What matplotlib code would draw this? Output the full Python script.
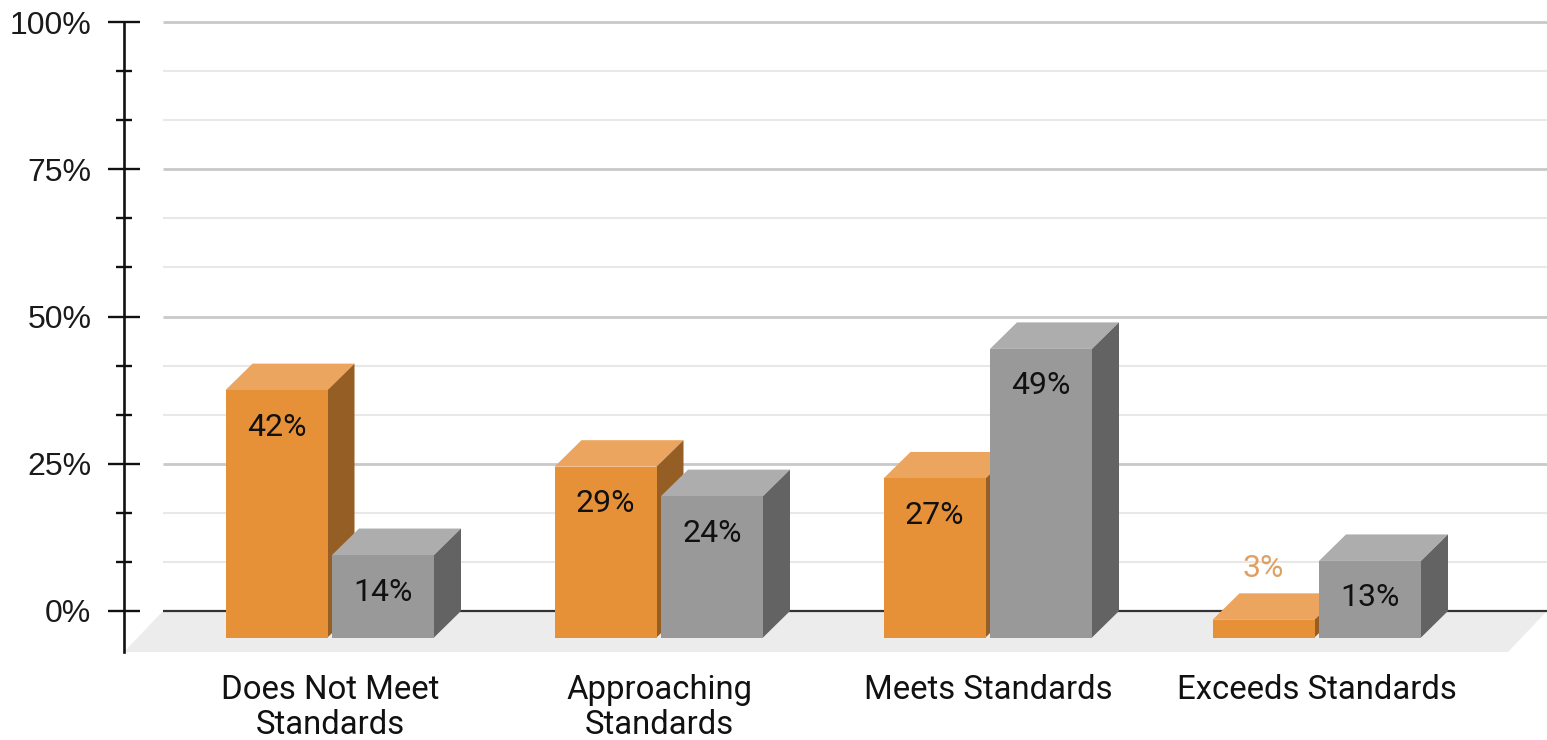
import matplotlib
matplotlib.use("Agg")
import matplotlib.pyplot as plt
from matplotlib.patches import Polygon

categories = ["Does Not Meet\nStandards", "Approaching\nStandards", "Meets Standards", "Exceeds Standards"]
orange_values = [42, 29, 27, 3]
grey_values = [14, 24, 49, 13]
y_major = [0, 25, 50, 75, 100]
y_minor = [100 / 12 * i for i in range(13) if i % 3]

ORANGE = ("#E69138", "#EBA55F", "#955E24")
GREY = ("#999999", "#ADADAD", "#636363")

W, H = 1547, 740
PX_X = 329.0    # pixels per category step
PX_Y = 5.89     # pixels per percent
DX = 27 / PX_X  # horizontal depth of the 3D boxes
DY = 4.5        # vertical depth of the 3D boxes, in percent
BAR_W = 102 / PX_X
FLOOR = -41 / PX_Y

plt.rcParams["font.family"] = ["Roboto", "DejaVu Sans"]
fig = plt.figure(figsize=(W / 100, H / 100), dpi=100)
ax = fig.add_axes([124 / W, (H - 652) / H, (W - 124) / W, 630 / H])
ax.set_xlim((124 - 330) / PX_X, (W - 330) / PX_X)
ax.set_ylim(FLOOR, 100)
for side in ("top", "right", "bottom"):
    ax.spines[side].set_visible(False)
ax.spines["left"].set_linewidth(1.9)
ax.spines["left"].set_color("#111111")

x0, x1 = ax.get_xlim()
wall_left = x0 + 39 / PX_X

# Floor of the 3D scene
ax.add_patch(Polygon([(wall_left, 0), (x1, 0), (x1 - 39 / PX_X, FLOOR), (x0, FLOOR)],
                     closed=True, fc="#ECECEC", ec="none", zorder=1))

# Back-wall grid lines
for v in y_minor:
    ax.plot([wall_left, x1], [v, v], color="#E8E8E8", lw=1.5, zorder=1, solid_capstyle="butt", clip_on=False)
for v in y_major[1:]:
    ax.plot([wall_left, x1], [v, v], color="#C9C9C9", lw=2.0, zorder=1, solid_capstyle="butt", clip_on=False)
ax.plot([wall_left, x1], [0, 0], color="#333333", lw=1.6, zorder=2, solid_capstyle="butt")


def box(left, value, colours, z):
    front, top, side = colours
    base = -DY
    ftop = value - DY
    r = left + BAR_W
    ax.add_patch(Polygon([(left, base), (r, base), (r, ftop), (left, ftop)], fc=front, ec="none", zorder=z + 0.2))
    ax.add_patch(Polygon([(left, ftop), (r, ftop), (r + DX, value), (left + DX, value)], fc=top, ec="none", zorder=z))
    ax.add_patch(Polygon([(r, base), (r + DX, 0), (r + DX, value), (r, ftop)], fc=side, ec="none", zorder=z))


ORANGE_OFFSET = (226 - 330.5) / PX_X
GREY_OFFSET = (332.5 - 330.5) / PX_X
LABEL_DROP = 37 / PX_Y
VALUE_SIZE = 23

for i, (o, g) in enumerate(zip(orange_values, grey_values)):
    box(i + ORANGE_OFFSET, o, ORANGE, 3)
    box(i + GREY_OFFSET, g, GREY, 4)
    ox = i + ORANGE_OFFSET + BAR_W / 2
    gx = i + GREY_OFFSET + BAR_W / 2
    if o - DY - LABEL_DROP > -DY:
        ax.text(ox, o - DY - LABEL_DROP, f"{o}%", ha="center", va="center",
                fontsize=VALUE_SIZE, color="#111111", zorder=6)
    else:
        # Too short to hold its label: the value sits above the box
        ax.text(ox, o + 4.3, f"{o}%", ha="center", va="center",
                fontsize=VALUE_SIZE, color="#E0A064", zorder=6)
    ax.text(gx, g - DY - LABEL_DROP, f"{g}%", ha="center", va="center",
            fontsize=VALUE_SIZE, color="#111111", zorder=6)

# Value axis
ax.set_yticks(y_major)
ax.set_yticklabels([f"{v}%" for v in y_major], fontsize=23, color="#1A1A1A", family="Liberation Sans")
ax.set_yticks(y_minor, minor=True)
ax.tick_params(axis="y", which="major", direction="inout", length=23, width=1.7, color="#111111", pad=12)
ax.tick_params(axis="y", which="minor", direction="inout", length=11.5, width=1.7, color="#111111")

# Category axis
ax.set_xticks(range(len(categories)))
ax.set_xticklabels(categories, fontsize=23.7, color="#111111", linespacing=1.12)
ax.tick_params(axis="x", length=0, pad=15.5)

fig.savefig("out.png", dpi=100, facecolor="white")
